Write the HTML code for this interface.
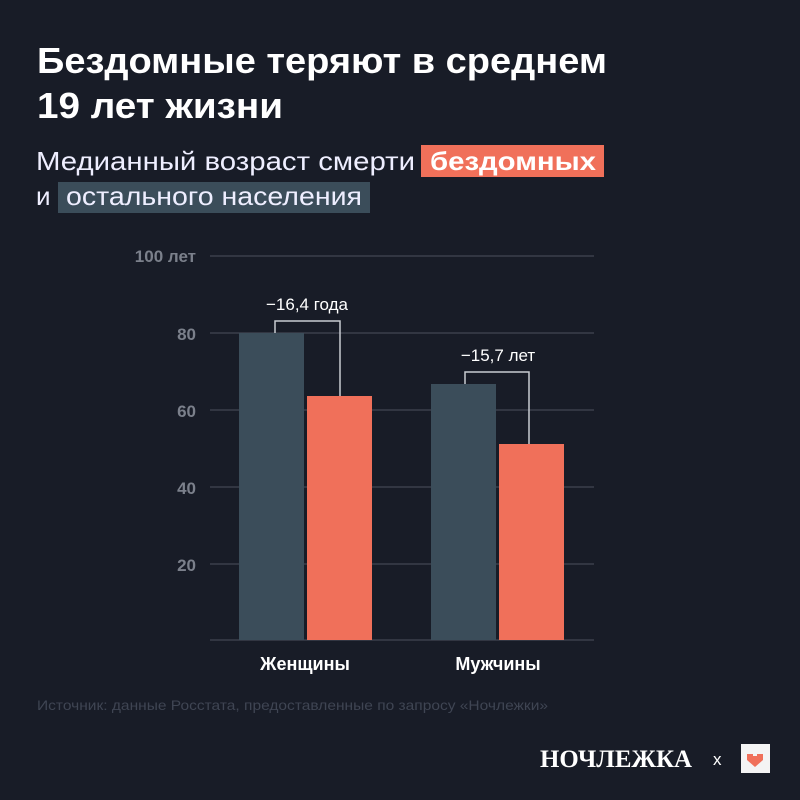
<!DOCTYPE html>
<html><head><meta charset="utf-8"><style>
body{margin:0;background:#181c27;}
#c{position:relative;width:800px;height:800px;background:#181c27;font-family:"Liberation Sans","DejaVu Sans",sans-serif;color:#fff;overflow:hidden}
.a{position:absolute;white-space:nowrap}
</style></head><body><div id="c">
<svg class="a" style="left:0;top:0" width="800" height="800" font-family="Liberation Sans,sans-serif">
<text x="37" y="73" fill="#fff" font-size="36" font-weight="bold" textLength="570" lengthAdjust="spacingAndGlyphs">Бездомные теряют в среднем</text>
<text x="37" y="118" fill="#fff" font-size="36" font-weight="bold" textLength="246" lengthAdjust="spacingAndGlyphs">19 лет жизни</text>
<rect x="421" y="145" width="183" height="32" fill="#f0705a"/>
<rect x="58" y="182" width="312" height="31" fill="#3b4d5a"/>
<text x="36" y="170" fill="#eef" font-size="26" textLength="379" lengthAdjust="spacingAndGlyphs">Медианный возраст смерти</text>
<text x="430" y="170" fill="#fff" font-size="26" font-weight="bold" textLength="166" lengthAdjust="spacingAndGlyphs">бездомных</text>
<text x="36" y="205" fill="#eef" font-size="26">и</text>
<text x="66" y="205" fill="#eef" font-size="26" textLength="296" lengthAdjust="spacingAndGlyphs">остального населения</text>
<g stroke="#3a3f4b" stroke-width="1.5">
<line x1="210" y1="256" x2="594" y2="256"/><line x1="210" y1="333" x2="594" y2="333"/>
<line x1="210" y1="410" x2="594" y2="410"/><line x1="210" y1="487" x2="594" y2="487"/>
<line x1="210" y1="564" x2="594" y2="564"/><line x1="210" y1="640" x2="594" y2="640"/></g>
<g fill="#7b808b" font-size="17" font-weight="bold" text-anchor="end">
<text x="196" y="262">100 лет</text><text x="196" y="340">80</text><text x="196" y="417">60</text><text x="196" y="494">40</text><text x="196" y="571">20</text></g>
<rect x="239" y="333" width="65" height="307" fill="#3b4d5a"/>
<rect x="307" y="396" width="65" height="244" fill="#f0705a"/>
<rect x="431" y="384" width="65" height="256" fill="#3b4d5a"/>
<rect x="499" y="444" width="65" height="196" fill="#f0705a"/>
<g stroke="#c8ccd2" stroke-width="1.5" fill="none">
<polyline points="275,333 275,321 340,321 340,396"/>
<polyline points="465,384 465,372 529,372 529,444"/></g>
<g fill="#fff" font-size="17" text-anchor="middle">
<text x="307" y="310">−16,4 года</text><text x="498" y="361">−15,7 лет</text></g>
<g fill="#fff" font-size="18" font-weight="bold" text-anchor="middle">
<text x="305" y="670">Женщины</text><text x="498" y="670">Мужчины</text></g>
<text x="37" y="710" fill="#3f4553" font-size="14" textLength="511" lengthAdjust="spacingAndGlyphs">Источник: данные Росстата, предоставленные по запросу «Ночлежки»</text>
<text x="540" y="767" fill="#fff" font-size="25" font-weight="bold" font-family="Liberation Serif,serif" textLength="152" lengthAdjust="spacingAndGlyphs">НОЧЛЕЖКА</text>
<text x="713" y="765" fill="#fff" font-size="17">x</text>
<rect x="741" y="744" width="29" height="29" fill="#f4f4f4"/>
<path d="M747,754 h6 v2 h4 v-2 h6 v6 l-8,7 l-8,-7z" fill="#f0705a"/>
</svg>
</div></body></html>
